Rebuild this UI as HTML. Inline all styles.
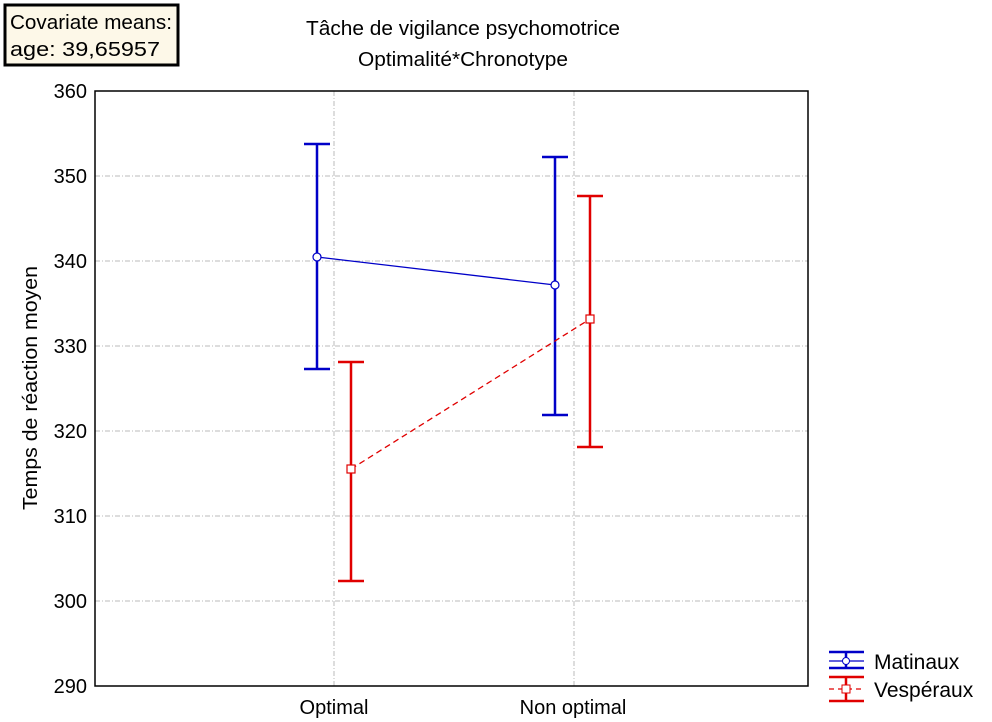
<!DOCTYPE html>
<html><head><meta charset="utf-8"><style>body{margin:0;background:#fff}svg{display:block}text{font-family:"Liberation Sans",sans-serif}</style></head><body>
<svg width="992" height="722" viewBox="0 0 992 722" xmlns="http://www.w3.org/2000/svg">
<rect x="5" y="5" width="173" height="60" fill="#fdf8e8" stroke="#000" stroke-width="3"/>
<text x="10" y="29" font-size="20" textLength="162" lengthAdjust="spacingAndGlyphs">Covariate means:</text>
<text x="10" y="56" font-size="20" textLength="150" lengthAdjust="spacingAndGlyphs">age: 39,65957</text>
<text x="463" y="35" font-size="20" text-anchor="middle" textLength="314" lengthAdjust="spacingAndGlyphs">Tâche de vigilance psychomotrice</text>
<text x="463" y="66" font-size="20" text-anchor="middle" textLength="210" lengthAdjust="spacingAndGlyphs">Optimalité*Chronotype</text>
<g stroke="#bbb" stroke-width="1" stroke-dasharray="5,2,1,2">
<line x1="95" y1="176" x2="808" y2="176"/><line x1="95" y1="261" x2="808" y2="261"/>
<line x1="95" y1="346" x2="808" y2="346"/><line x1="95" y1="431" x2="808" y2="431"/>
<line x1="95" y1="516" x2="808" y2="516"/><line x1="95" y1="601" x2="808" y2="601"/>
<line x1="334" y1="91" x2="334" y2="686"/><line x1="574" y1="91" x2="574" y2="686"/>
</g>
<rect x="95" y="91" width="713" height="595" fill="none" stroke="#000" stroke-width="1.5"/>
<g font-size="20" text-anchor="end">
<text x="87" y="98">360</text><text x="87" y="183">350</text><text x="87" y="268">340</text>
<text x="87" y="353">330</text><text x="87" y="438">320</text><text x="87" y="523">310</text>
<text x="87" y="608">300</text><text x="87" y="693">290</text></g>
<text x="334" y="714" font-size="20" text-anchor="middle">Optimal</text>
<text x="573" y="714" font-size="20" text-anchor="middle">Non optimal</text>
<text transform="translate(37,388) rotate(-90)" font-size="20" text-anchor="middle" textLength="244" lengthAdjust="spacingAndGlyphs">Temps de réaction moyen</text>
<g stroke="#0000c8" stroke-width="2.5" fill="none">
<line x1="317" y1="144" x2="317" y2="369"/><line x1="304" y1="144" x2="330" y2="144"/><line x1="304" y1="369" x2="330" y2="369"/>
<line x1="555" y1="157" x2="555" y2="415"/><line x1="542" y1="157" x2="568" y2="157"/><line x1="542" y1="415" x2="568" y2="415"/>
<line x1="317" y1="257" x2="555" y2="285" stroke-width="1.3"/>
</g>
<g stroke="#e00000" stroke-width="2.5" fill="none">
<line x1="351" y1="362" x2="351" y2="581"/><line x1="338" y1="362" x2="364" y2="362"/><line x1="338" y1="581" x2="364" y2="581"/>
<line x1="590" y1="196" x2="590" y2="447"/><line x1="577" y1="196" x2="603" y2="196"/><line x1="577" y1="447" x2="603" y2="447"/>
<line x1="351" y1="469" x2="590" y2="319" stroke-width="1.3" stroke-dasharray="6,4"/>
</g>
<circle cx="317" cy="257" r="4" fill="#fff" stroke="#0000c8" stroke-width="1.2"/>
<circle cx="555" cy="285" r="4" fill="#fff" stroke="#0000c8" stroke-width="1.2"/>
<rect x="347" y="465" width="8" height="8" fill="#fff" stroke="#e00000" stroke-width="1.2"/>
<rect x="586" y="315" width="8" height="8" fill="#fff" stroke="#e00000" stroke-width="1.2"/>
<g stroke="#0000c8" stroke-width="2.5"><line x1="829" y1="652" x2="864" y2="652"/><line x1="829" y1="668" x2="864" y2="668"/><line x1="846" y1="652" x2="846" y2="668"/><line x1="829" y1="661" x2="864" y2="661" stroke-width="1.2"/></g>
<circle cx="846" cy="661" r="3.5" fill="#fff" stroke="#0000c8"/>
<g stroke="#e00000" stroke-width="2.5"><line x1="829" y1="677" x2="864" y2="677"/><line x1="829" y1="701" x2="864" y2="701"/><line x1="846" y1="677" x2="846" y2="701"/><line x1="829" y1="689" x2="864" y2="689" stroke-width="1.3" stroke-dasharray="5,4"/></g>
<rect x="842" y="685" width="8" height="8" fill="#fff" stroke="#e00000"/>
<text x="874" y="669" font-size="21">Matinaux</text>
<text x="874" y="697" font-size="21">Vespéraux</text>
</svg>
</body></html>
